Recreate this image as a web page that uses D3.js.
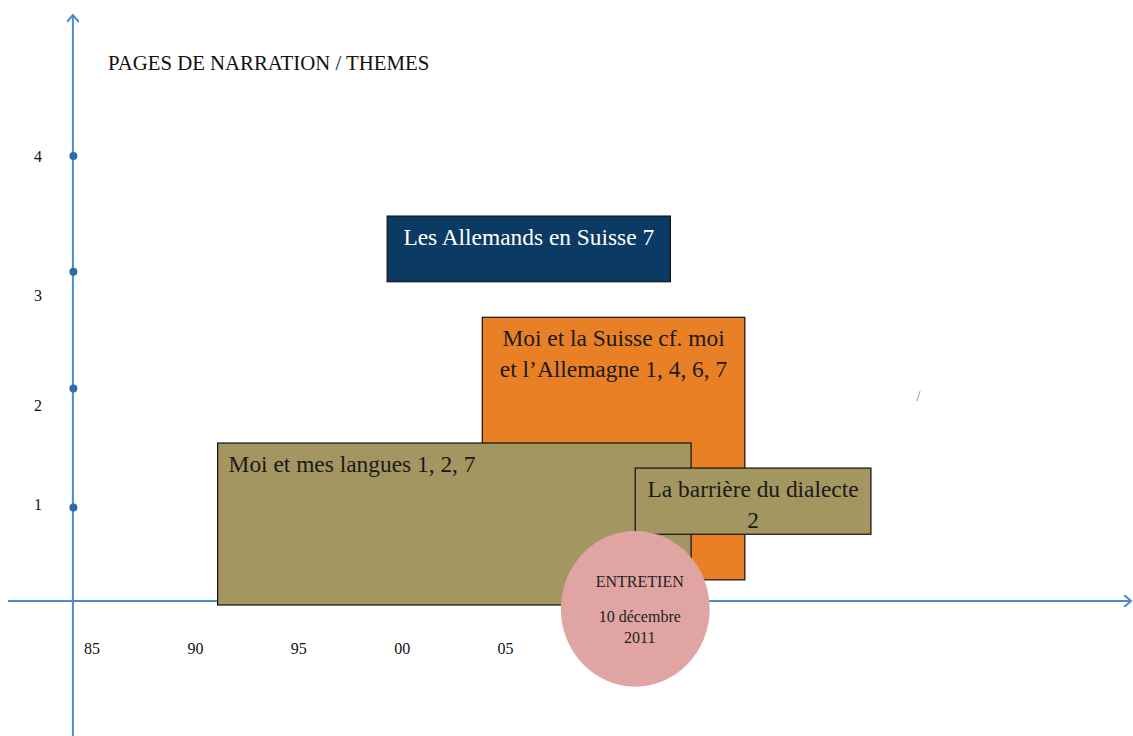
<!DOCTYPE html>
<html>
<head>
<meta charset="utf-8">
<script src="https://cdn.jsdelivr.net/npm/d3@7"></script>
<style>
  html, body { margin: 0; padding: 0; background: #fff; }
  svg { display: block; font-family: "Liberation Serif", "Times New Roman", serif; }
</style>
</head>
<body>
<svg width="1133" height="736"></svg>
<script>
// years on the x axis, "pages" on the y axis
const yearTicks = [1985, 1990, 1995, 2000, 2005];
const pageDots = [0.84, 1.91, 2.96, 4];
const pageLabels = ["1", "2", "3", "4"];
const pageLabelPos = [0.87, 1.76, 2.75, 4];

// themes: start/end year, top/bottom page value
const themeNames = ["Les Allemands en Suisse 7", "Moi et la Suisse cf. moi|et l\u2019Allemagne 1, 4, 6, 7", "Moi et mes langues 1, 2, 7", "La barri\u00e8re du dialecte|2"];
const themeStart = [1999.3, 2003.9, 1991.1, 2011.3];
const themeEnd = [2013.0, 2016.6, 2014.0, 2022.7];
const themeTop = [3.46, 2.55, 1.42, 1.195];
const themeBottom = [2.87, 0.19, -0.036, 0.60];
const themeColors = ["#0b3b64", "#e98025", "#a39660", "#a39660"];
const themeText = ["#fff", "#1a1a1a", "#1a1a1a", "#1a1a1a"];
const themeAlign = ["middle", "middle", "start", "middle"];

// the interview
const interviewLines = ["ENTRETIEN", "10 d\u00e9cembre", "2011"];
const interviewYear = 2011.3;
const interviewPage = -0.07;

const svg = d3.select("svg");
const x = d3.scaleLinear().domain([1985, 2005]).range([91.5, 505]);
const y = d3.scaleLinear().domain([0, 4]).range([601, 156]);
const axisColor = "#4d8bc9";
const x0 = x(1984.1);

svg.append("defs").append("marker")
  .attr("id", "arrow")
  .attr("viewBox", "-10 -6 12 12")
  .attr("refX", 0).attr("refY", 0)
  .attr("markerWidth", 12).attr("markerHeight", 12)
  .attr("markerUnits", "userSpaceOnUse")
  .attr("orient", "auto")
  .append("path")
  .attr("d", "M -7,-6 L 0,0 L -7,6")
  .attr("fill", "none")
  .attr("stroke", axisColor)
  .attr("stroke-width", 2);

// x axis line
svg.append("line")
  .attr("x1", 8).attr("x2", 1131)
  .attr("y1", y(0)).attr("y2", y(0))
  .attr("stroke", axisColor).attr("stroke-width", 2)
  .attr("marker-end", "url(#arrow)");

// y axis line
svg.append("line")
  .attr("x1", x0).attr("x2", x0)
  .attr("y1", 736).attr("y2", 15)
  .attr("stroke", axisColor).attr("stroke-width", 2)
  .attr("marker-end", "url(#arrow)");

const xAxis = svg.append("g")
  .attr("transform", "translate(0," + y(0) + ")")
  .call(d3.axisBottom(x)
    .tickValues(yearTicks)
    .tickSize(0)
    .tickPadding(42)
    .tickFormat(d => String(d % 100).padStart(2, "0")));
xAxis.select(".domain").remove();
xAxis.selectAll("text")
  .attr("font-family", "Liberation Serif, serif")
  .attr("font-size", 16)
  .attr("fill", "#111");

svg.append("text")
  .attr("x", 108).attr("y", 70)
  .attr("font-size", 20.8)
  .attr("fill", "#111")
  .text("PAGES DE NARRATION / THEMES");

// y labels
svg.selectAll(".ylab")
  .data(pageLabels)
  .enter()
  .append("text")
  .attr("class", "ylab")
  .attr("x", 38)
  .attr("y", (d, i) => y(pageLabelPos[i]) + 5.5)
  .attr("text-anchor", "middle")
  .attr("font-size", 16)
  .attr("fill", "#111")
  .text(d => d);

// theme boxes
const box = svg.selectAll(".theme")
  .data(themeNames)
  .enter()
  .append("g")
  .attr("class", "theme");

box.append("rect")
  .attr("x", (d, i) => x(themeStart[i]))
  .attr("y", (d, i) => y(themeTop[i]))
  .attr("width", (d, i) => x(themeEnd[i]) - x(themeStart[i]))
  .attr("height", (d, i) => y(themeBottom[i]) - y(themeTop[i]))
  .attr("fill", (d, i) => themeColors[i])
  .attr("stroke", "#111")
  .attr("stroke-width", 1.2);

box.each(function (d, i) {
  const g = d3.select(this);
  const left = x(themeStart[i]);
  const right = x(themeEnd[i]);
  const tx = themeAlign[i] === "start" ? left + 11 : (left + right) / 2;
  g.selectAll("text")
    .data(d.split("|"))
    .enter()
    .append("text")
    .attr("x", tx)
    .attr("y", (l, j) => y(themeTop[i]) + 29 + j * 30.5)
    .attr("text-anchor", themeAlign[i])
    .attr("font-size", 23.4)
    .attr("fill", themeText[i])
    .text(l => l);
});

// interview ellipse
svg.append("ellipse")
  .attr("cx", x(interviewYear))
  .attr("cy", y(interviewPage))
  .attr("rx", x(2000) - x(2000 - 3.6))
  .attr("ry", y(0) - y(0.7))
  .attr("fill", "#e0a5a2");

svg.selectAll(".ilab")
  .data(interviewLines)
  .enter()
  .append("text")
  .attr("class", "ilab")
  .attr("x", x(interviewYear) + 4.5)
  .attr("y", (d, i) => y(interviewPage) + (i === 0 ? -22 : -8 + i * 21))
  .attr("text-anchor", "middle")
  .attr("font-size", 16)
  .attr("fill", "#222")
  .text(d => d);

// dots on the y axis
svg.selectAll(".dot")
  .data(pageDots)
  .enter()
  .append("circle")
  .attr("class", "dot")
  .attr("cx", x0 + 0.5)
  .attr("cy", d => y(d))
  .attr("r", 4)
  .attr("fill", "#2f6ca6");

// stray slash on the right
svg.append("text")
  .attr("x", x(2025.0))
  .attr("y", y(1.80))
  .attr("text-anchor", "middle")
  .attr("font-size", 14)
  .attr("fill", "#777")
  .text("/");
</script>
</body>
</html>
